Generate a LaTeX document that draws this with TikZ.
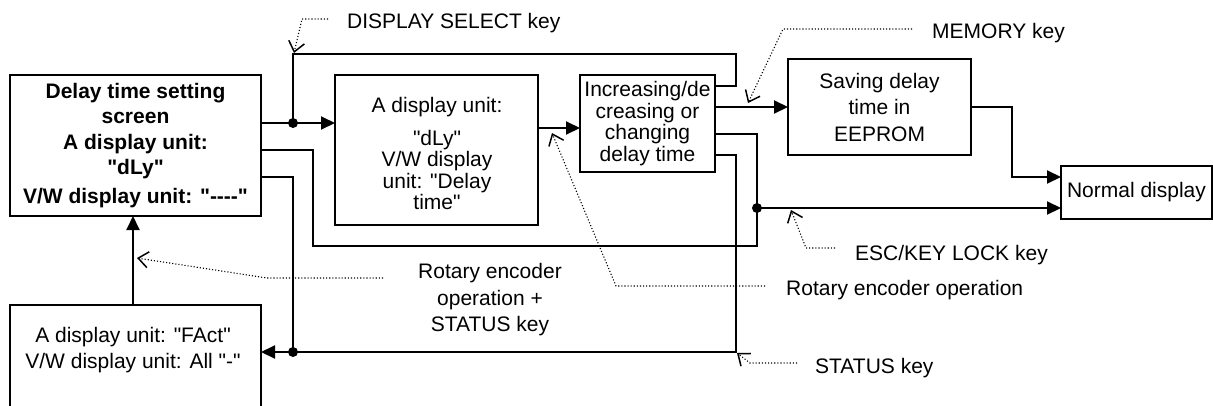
\documentclass[tikz,border=0pt]{standalone}
\usepackage{fontspec}
\setmainfont{Liberation Sans}[Ligatures=TeXOff]
\usetikzlibrary{arrows.meta}
\begin{document}
\begin{tikzpicture}[x=1pt,y=-1pt,
  box/.style={draw, line width=2pt, inner sep=0pt, outer sep=0pt, align=center},
  wire/.style={line width=2pt},
  flow/.style={wire, -{Triangle[length=14pt,width=13pt]}},
  jdot/.style={circle, fill, inner sep=0pt, minimum size=10pt},
  note/.style={line width=1.1pt, dash pattern=on 1.1pt off 2pt, -{Straight Barb[length=10pt,width=16pt,line width=1.5pt]}},
  lbl/.style={font=\fontsize{21}{25}\selectfont, inner sep=0pt, align=center},
  ]
\path[use as bounding box, clip] (0,0) rectangle (1213,405);

% boxes
\node[box, minimum width=251pt, minimum height=141pt, font=\fontsize{21}{25.5}\selectfont\bfseries] (A) at (135.5,145.5)
  {Delay time setting\\screen\\A display unit:\\"dLy"\\[3pt]V/W display unit: "----"};
\node[box, minimum width=203pt, minimum height=150pt] (B) at (436.5,150) {};
\node[lbl, font=\fontsize{21}{21.5}\selectfont] (Bt) at (437,153.5)
  {A display unit:\\[11pt]"dLy"\\V/W display\\unit: "Delay\\time"};
\node[box, minimum width=135pt, minimum height=97pt, font=\fontsize{21}{21.5}\selectfont] (C) at (647.5,123.5)
  {Increasing/de\\creasing or\\changing\\delay time};
\node[box, minimum width=183pt, minimum height=96pt, font=\fontsize{21}{26.5}\selectfont] (D) at (879.5,107)
  {Saving delay\\time in\\EEPROM};
\node[box, minimum width=151pt, minimum height=53pt, font=\fontsize{21}{25}\selectfont] (E) at (1136.5,192.5)
  {Normal display};
\node[box, minimum width=251pt, minimum height=130pt, anchor=north] (F) at (135.5,305) {};
\node[lbl, font=\fontsize{21}{26}\selectfont] (Ft) at (133,350)
  {A display unit: "FAct"\\V/W display unit: All "-"};

% coordinates
\coordinate (j1) at (293,123);
\coordinate (j2) at (757,208);
\coordinate (j3) at (293,352);
\coordinate (k1) at (736,86);
\coordinate (k2) at (736,54);
\coordinate (r128) at (0,128);
\coordinate (r107) at (0,107);
\coordinate (k3) at (1012,107);
\coordinate (k4) at (1012,177);
\coordinate (k5) at (757,134);
\coordinate (k6) at (313,150);
\coordinate (k7) at (313,246);
\coordinate (k8) at (736,155);
\coordinate (k9) at (736,352);
\coordinate (k10) at (293,177);
\coordinate (k11) at (133,0);

% connectors
\draw[flow] (A.east |- j1) -- (B.west |- j1);
\draw[wire] (C.east |- k1) -- (k1) -- (k2) -| (j1);
\draw[flow] (B.east |- r128) -- (C.west |- r128);
\draw[flow] (C.east |- r107) -- (D.west |- r107);
\draw[flow] (D.east |- k3) -- (k3) -- (k4) -- (E.west |- k4);
\draw[wire] (C.east |- k5) -- (k5) -- (j2);
\draw[flow] (j2) -- (E.west |- j2);
\draw[wire] (A.east |- k6) -- (k6) -- (k7) -| (j2);
\draw[wire] (C.east |- k8) -- (k8) -- (k9) -- (j3);
\draw[flow] (j3) -- (F.east |- j3);
\draw[wire] (A.east |- k10) -- (k10) -- (j3);
\draw[flow] (F.north -| k11) -- (A.south -| k11);

\node[jdot] (d1) at (j1) {};
\node[jdot] (d2) at (j2) {};
\node[jdot] (d3) at (j3) {};

% annotations
\node[lbl, anchor=base west] (ds) at (347,28) {DISPLAY SELECT key};
\draw[note] (328,19) -- (302,19) -- (294,53);
\node[lbl, anchor=base west] (mem) at (932,38) {MEMORY key};
\draw[note] (912,29) -- (783,29) -- (748,103);
\node[lbl, anchor=base west] (rot) at (786,295) {Rotary encoder operation};
\draw[note] (765,286) -- (616,286) -- (552,133);
\node[lbl, anchor=base west] (esc) at (855,260) {ESC/KEY LOCK key};
\draw[note] (835,248) -- (806,248) -- (791,210);
\node[lbl, anchor=base west] (st) at (815,373) {STATUS key};
\draw[note] (797,363) -- (750,363) -- (737,353);
\node[lbl, font=\fontsize{21}{26.5}\selectfont] (rs) at (490,300) {Rotary encoder\\operation +\\STATUS key};
\draw[note] (383,278) -- (267,278) -- (137,258);
\end{tikzpicture}
\end{document}
